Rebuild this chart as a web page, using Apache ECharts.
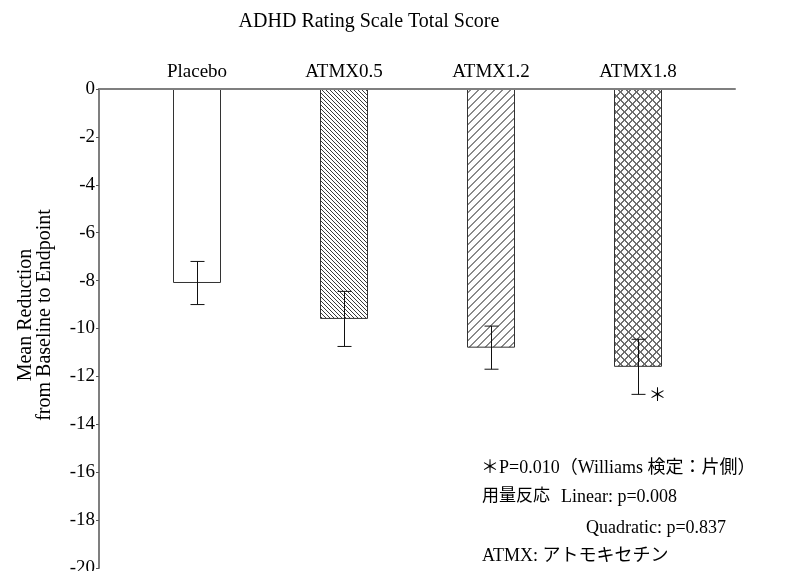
<!DOCTYPE html>
<html>
<head>
<meta charset="utf-8">
<script src="https://cdn.jsdelivr.net/npm/echarts@6/dist/echarts.min.js"></script>
<style>
  html, body { margin: 0; padding: 0; background: #fff; }
  #chart { width: 789px; height: 571px; }
</style>
</head>
<body>
<div id="chart"></div>
<script>
// Dose groups and mean change (baseline -> endpoint) with standard errors
const categories = ['Placebo', 'ATMX0.5', 'ATMX1.2', 'ATMX1.8'];
const meanReduction = [-8.1, -9.6, -10.8, -11.6];
const standardError = [0.9, 1.15, 0.9, 1.15];
const significance = ['', '', '', '＊'];
const yMin = -20;
const yMax = 0;
const yStep = 2;

const FONT = "'Liberation Serif', 'Noto Sans CJK JP', serif";

// Build repeating hatch fills on small canvases
function makePattern(size, paint) {
  const c = document.createElement('canvas');
  c.width = size; c.height = size;
  const ctx = c.getContext('2d');
  ctx.fillStyle = '#fff';
  ctx.fillRect(0, 0, size, size);
  paint(ctx, size);
  return { image: c, repeat: 'repeat' };
}
function px(ctx, x, y, size) {
  ctx.fillRect(((x % size) + size) % size, ((y % size) + size) % size, 1, 1);
}
const fills = [
  '#ffffff',
  // fine back-slash hatch
  makePattern(4, (ctx, s) => {
    ctx.fillStyle = '#3a3a3a';
    for (let i = 0; i < s; i++) px(ctx, i, i, s);
  }),
  // wide forward-slash hatch
  makePattern(8, (ctx, s) => {
    ctx.fillStyle = '#8a8a8a';
    for (let y = 0; y < s; y++) {
      for (let t = 0; t < 2; t++) px(ctx, s - 1 - y + t, y, s);
    }
  }),
  // diagonal cross-hatch
  makePattern(8, (ctx, s) => {
    ctx.fillStyle = '#6f6f6f';
    for (let y = 0; y < s; y++) {
      for (let t = 0; t < 2; t++) {
        px(ctx, y + t, y, s);
        px(ctx, s - 1 - y + t, y, s);
      }
    }
  })
];

const chart = echarts.init(document.getElementById('chart'), null, { renderer: 'canvas' });

const gridTop = 89;
const gridBottom = 3;

const option = {
  animation: false,
  backgroundColor: '#fff',
  grid: [
    { left: 99, right: 54, top: gridTop, bottom: gridBottom, outerBoundsMode: 'none', containLabel: false },
    { left: 123.5, width: 588, top: gridTop, bottom: gridBottom, outerBoundsMode: 'none', containLabel: false }
  ],
  xAxis: [
    {
      gridIndex: 0, type: 'value', min: 0, max: 1, position: 'top', z: 10,
      axisLine: { show: true, onZero: false, lineStyle: { color: '#7f7f7f', width: 2 } },
      axisTick: { show: false }, axisLabel: { show: false }, splitLine: { show: false }
    },
    {
      gridIndex: 1, type: 'category', data: categories, position: 'top',
      axisLine: { show: false }, axisTick: { show: false }, splitLine: { show: false },
      axisLabel: { margin: 7, color: '#000', fontFamily: FONT, fontSize: 19 }
    }
  ],
  yAxis: [
    {
      gridIndex: 0, type: 'value', min: yMin, max: yMax, interval: yStep, z: 10,
      axisLine: { show: true, lineStyle: { color: '#7f7f7f', width: 2 } },
      axisTick: { show: true, length: 3, lineStyle: { color: '#555' } },
      axisLabel: { margin: 4, color: '#000', fontFamily: FONT, fontSize: 19 },
      splitLine: { show: false }
    },
    {
      gridIndex: 1, type: 'value', min: yMin, max: yMax, interval: yStep, show: false,
      splitLine: { show: false }
    }
  ],
  series: [
    {
      type: 'bar',
      xAxisIndex: 1, yAxisIndex: 1,
      barWidth: 48,
      data: meanReduction.map((v, i) => ({
        value: v,
        itemStyle: { color: fills[i], borderColor: '#333', borderWidth: 1 }
      }))
    },
    {
      type: 'custom',
      xAxisIndex: 1, yAxisIndex: 1,
      z: 5,
      data: categories.map((c, i) => [i, meanReduction[i], standardError[i]]),
      renderItem: function (params, api) {
        const i = api.value(0);
        const m = api.value(1);
        const e = api.value(2);
        const hi = api.coord([i, m + e]);
        const lo = api.coord([i, m - e]);
        const x = Math.round(hi[0]) + 0.5;
        const cap = 7;
        const stroke = { stroke: '#111', lineWidth: 1 };
        const children = [
          { type: 'line', shape: { x1: x, y1: hi[1], x2: x, y2: lo[1] }, style: stroke },
          { type: 'line', shape: { x1: x - cap, y1: hi[1], x2: x + cap, y2: hi[1] }, style: stroke },
          { type: 'line', shape: { x1: x - cap, y1: lo[1], x2: x + cap, y2: lo[1] }, style: stroke }
        ];
        const mark = significance[params.dataIndex];
        if (mark) {
          children.push({
            type: 'text',
            style: {
              text: mark, x: x + 19, y: lo[1] + 2,
              align: 'center', verticalAlign: 'middle',
              font: '18px ' + FONT, fill: '#000'
            }
          });
        }
        return { type: 'group', children: children };
      }
    }
  ],
  graphic: [
    {
      type: 'text', x: 369, y: 22,
      style: { text: 'ADHD Rating Scale Total Score', font: '20px ' + FONT, fill: '#000', align: 'center', verticalAlign: 'middle' }
    },
    {
      type: 'text', x: 35, y: 315, rotation: Math.PI / 2,
      style: {
        text: 'Mean Reduction\nfrom Baseline to Endpoint', font: '20px ' + FONT, lineHeight: 19,
        fill: '#000', align: 'center', verticalAlign: 'middle'
      }
    },
    {
      type: 'text', x: 481, y: 468,
      style: { text: '＊P=0.010（Williams 検定：片側）', font: '18px ' + FONT, fill: '#000', align: 'left', verticalAlign: 'middle' }
    },
    {
      type: 'text', x: 482, y: 497,
      style: { text: '用量反応', font: '17px ' + FONT, fill: '#000', align: 'left', verticalAlign: 'middle' }
    },
    {
      type: 'text', x: 561, y: 497,
      style: { text: 'Linear: p=0.008', font: '18px ' + FONT, fill: '#000', align: 'left', verticalAlign: 'middle' }
    },
    {
      type: 'text', x: 586, y: 528,
      style: { text: 'Quadratic: p=0.837', font: '18px ' + FONT, fill: '#000', align: 'left', verticalAlign: 'middle' }
    },
    {
      type: 'text', x: 482, y: 556,
      style: { text: 'ATMX: アトモキセチン', font: '18px ' + FONT, fill: '#000', align: 'left', verticalAlign: 'middle' }
    }
  ]
};

chart.setOption(option);
</script>
</body>
</html>
